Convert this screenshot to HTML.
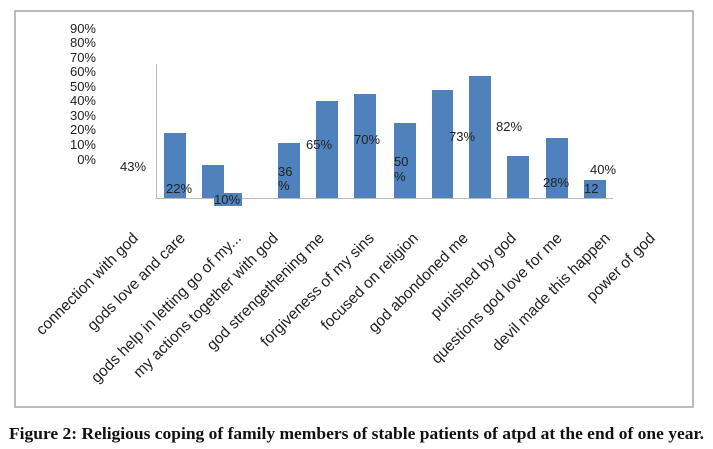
<!DOCTYPE html>
<html><head><style>
html,body{margin:0;padding:0;background:#fff;}
svg{display:block;}
</style></head><body>
<svg width="713" height="449" xmlns="http://www.w3.org/2000/svg">
<rect x="15" y="11" width="678" height="396" fill="#fff" stroke="#a6a6a6" stroke-width="1.5"/>
<g font-family="Liberation Sans, sans-serif" font-size="13" fill="#222" text-anchor="end">
<text x="96" y="33">90%</text><text x="96" y="47">80%</text><text x="96" y="62">70%</text>
<text x="96" y="76">60%</text><text x="96" y="91">50%</text><text x="96" y="105">40%</text>
<text x="96" y="120">30%</text><text x="96" y="134">20%</text><text x="96" y="149">10%</text>
<text x="96" y="164">0%</text>
</g>
<line x1="156.5" y1="64" x2="156.5" y2="198" stroke="#bbb"/>
<line x1="156" y1="198.5" x2="613" y2="198.5" stroke="#bbb"/>
<g fill="#4f81bd">
<rect x="164" y="133" width="22" height="65"/>
<rect x="202" y="165" width="22" height="33"/>
<rect x="214" y="193" width="28" height="13"/>
<rect x="278" y="143" width="22" height="55"/>
<rect x="316" y="101" width="22" height="97"/>
<rect x="354" y="94" width="22" height="104"/>
<rect x="394" y="123" width="22" height="75"/>
<rect x="432" y="90" width="21" height="108"/>
<rect x="469" y="76" width="22" height="122"/>
<rect x="507" y="156" width="22" height="42"/>
<rect x="546" y="138" width="22" height="60"/>
<rect x="584" y="180" width="22" height="18"/>
</g>
<g font-family="Liberation Sans, sans-serif" font-size="13" fill="#222">
<text x="120" y="171">43%</text>
<text x="166" y="193">22%</text>
<text x="214" y="204">10%</text>
<text x="278" y="176">36</text><text x="278" y="190">%</text>
<text x="306" y="149">65%</text>
<text x="354" y="144">70%</text>
<text x="394" y="166">50</text><text x="394" y="181">%</text>
<text x="449" y="141">73%</text>
<text x="496" y="131">82%</text>
<text x="543" y="187">28%</text>
<text x="584" y="193">12</text>
<text x="590" y="174">40%</text>
</g>
<g font-family="Liberation Sans, sans-serif" font-size="15.5" fill="#222" text-anchor="end">
<text transform="translate(139,239) rotate(-45)">connection with god</text>
<text transform="translate(186,239) rotate(-45)">gods love and care</text>
<text transform="translate(242,239) rotate(-45)">gods help in letting go of my...</text>
<text transform="translate(279,239) rotate(-45)">my actions together with god</text>
<text transform="translate(325,239) rotate(-45)">god strengethening me</text>
<text transform="translate(375,239) rotate(-45)">forgiveness of my sins</text>
<text transform="translate(419,239) rotate(-45)">focused on religion</text>
<text transform="translate(469,239) rotate(-45)">god abondoned me</text>
<text transform="translate(517,239) rotate(-45)">punished by god</text>
<text transform="translate(563,239) rotate(-45)">questions god love for me</text>
<text transform="translate(611,239) rotate(-45)">devil made this happen</text>
<text transform="translate(656,239) rotate(-45)">power of god</text>
</g>
<text x="9" y="439" font-family="Liberation Serif, serif" font-weight="bold" font-size="17" fill="#111" textLength="695" lengthAdjust="spacingAndGlyphs">Figure 2: Religious coping of family members of stable patients of atpd at the end of one year.</text>
</svg>
</body></html>
